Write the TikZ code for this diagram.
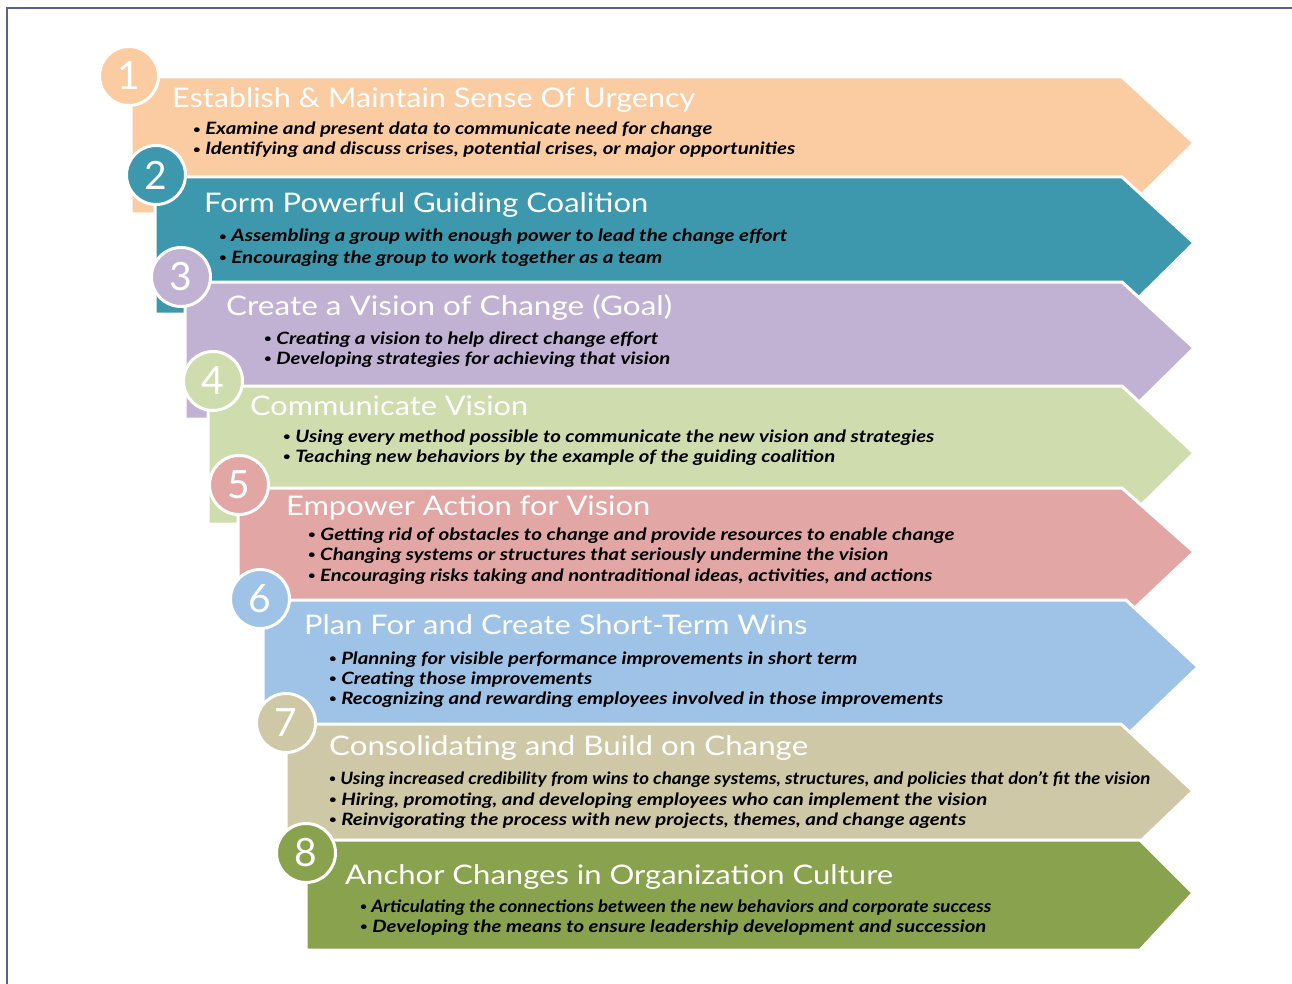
\documentclass[tikz,border=0pt]{standalone}
\usepackage{fontspec}
\setmainfont{Lato}
\usepackage{graphicx}

\definecolor{frameblue}{HTML}{5A6092}
\definecolor{cA}{HTML}{FBCBA2}
\definecolor{cB}{HTML}{3D97AD}
\definecolor{cC}{HTML}{C1B2D4}
\definecolor{cD}{HTML}{CFDCAE}
\definecolor{cE}{HTML}{E2A7A5}
\definecolor{cF}{HTML}{9FC2E7}
\definecolor{cG}{HTML}{CFC8A7}
\definecolor{cH}{HTML}{89A24E}

% chevron band: colour, left, top, bottom, tip y, corner x, tip x
\newcommand{\chevron}[7]{%
  \fill[#1, draw=white, line width=3pt, line join=miter]
    (#2,#3) -- (#6,#3) -- (#7,#5) -- (#6,#4) -- (#2,#4) -- cycle;}
% text set to a given width
\newcommand{\fitw}[2]{\resizebox{#1pt}{\height}{#2}}
% small bullet mark
\newcommand{\pt}{{\fontsize{11}{11}\selectfont\raisebox{1.2pt}{•}}\ }

\begin{document}
\begin{tikzpicture}[x=1pt, y=-1pt,
  stepnum/.style={circle, draw=white, line width=3pt, minimum size=59pt,
    inner sep=0pt, text=white, font=\fontsize{39}{39}\selectfont},
  steptitle/.style={anchor=base west, inner sep=0pt, text=white,
    font=\fontsize{27}{27}\selectfont, yshift=-1pt},
  steppoint/.style={anchor=base west, inner sep=0pt, text=black,
    font=\fontsize{17}{17}\selectfont\bfseries\itshape, yshift=-2pt}]

\useasboundingbox (0,0) rectangle (1292,984);
\draw[frameblue, line width=1.5pt] (7,984) -- (7,8) -- (1292,8);

% 1
\chevron{cA}{131}{77}{214}{143}{1122}{1194}
\node[stepnum, fill=cA] (n1) at (129,76) {1};
\node[steptitle] (t1) at (172,107) {\fitw{523}{Establish \& Maintain Sense Of Urgency}};
\node[steppoint] (p1a) at (193,133) {\fitw{519}{\pt Examine and present data to communicate need for change}};
\node[steppoint] (p1b) at (193,153) {\fitw{602}{\pt Identifying and discuss crises, potential crises, or major opportunities}};

% 2
\chevron{cB}{155}{177}{314}{243}{1122}{1194}
\node[stepnum, fill=cB] (n2) at (156,175) {2};
\node[steptitle] (t2) at (204,212) {\fitw{444}{Form Powerful Guiding Coalition}};
\node[steppoint] (p2a) at (219,240) {\fitw{568}{\pt Assembling a group with enough power to lead the change effort}};
\node[steppoint] (p2b) at (219,261) {\fitw{443}{\pt Encouraging the group to work together as a team}};

% 3
\chevron{cC}{185}{282}{419}{348}{1122}{1194}
\node[stepnum, fill=cC] (n3) at (181,277) {3};
\node[steptitle] (t3) at (226,314) {\fitw{446}{Create a Vision of Change (Goal)}};
\node[steppoint] (p3a) at (264,342) {\fitw{394}{\pt Creating a vision to help direct change effort}};
\node[steppoint] (p3b) at (264,362) {\fitw{406}{\pt Developing strategies for achieving that vision}};

% 4
\chevron{cD}{208}{386}{524}{453}{1122}{1194}
\node[stepnum, fill=cD] (n4) at (213,381) {4};
\node[steptitle] (t4) at (250,414) {\fitw{278}{Communicate Vision}};
\node[steppoint] (p4a) at (283,440) {\fitw{651}{\pt Using every method possible to communicate the new vision and strategies}};
\node[steppoint] (p4b) at (283,460) {\fitw{552}{\pt Teaching new behaviors by the example of the guiding coalition}};

% 5
\chevron{cE}{238}{488}{620}{552}{1122}{1194}
\node[stepnum, fill=cE] (n5) at (239,485) {5};
\node[steptitle] (t5) at (286,514) {\fitw{364}{Empower Action for Vision}};
\node[steppoint] (p5a) at (308,538) {\fitw{646}{\pt Getting rid of obstacles to change and provide resources to enable change}};
\node[steppoint] (p5b) at (308,558) {\fitw{580}{\pt Changing systems or structures that seriously undermine the vision}};
\node[steppoint] (p5c) at (308,579) {\fitw{624}{\pt Encouraging risks taking and nontraditional ideas, activities, and actions}};

% 6
\chevron{cF}{263}{600}{736}{667}{1126}{1198}
\node[stepnum, fill=cF] (n6) at (260,599) {6};
\node[steptitle] (t6) at (304,633) {\fitw{503}{Plan For and Create Short-Term Wins}};
\node[steppoint] (p6a) at (329,662) {\fitw{528}{\pt Planning for visible performance improvements in short term}};
\node[steppoint] (p6b) at (329,682) {\fitw{263}{\pt Creating those improvements}};
\node[steppoint] (p6c) at (329,702) {\fitw{614}{\pt Recognizing and rewarding employees involved in those improvements}};

% 7
\chevron{cG}{286}{724}{860}{791}{1121}{1193}
\node[stepnum, fill=cG] (n7) at (286,723) {7};
\node[steptitle] (t7) at (329,754) {\fitw{479}{Consolidating and Build on Change}};
\node[steppoint] (p7a) at (329,782) {\fitw{821}{\pt Using increased credibility from wins to change systems, structures, and policies that don’t fit the vision}};
\node[steppoint] (p7b) at (329,803) {\fitw{658}{\pt Hiring, promoting, and developing employees who can implement the vision}};
\node[steppoint] (p7c) at (329,823) {\fitw{637}{\pt Reinvigorating the process with new projects, themes, and change agents}};

% 8
\chevron{cH}{306}{840}{950}{893}{1140}{1193}
\node[stepnum, fill=cH] (n8) at (306,853) {8};
\node[steptitle] (t8) at (345,883) {\fitw{548}{Anchor Changes in Organization Culture}};
\node[steppoint] (p8a) at (360,910) {\fitw{631}{\pt Articulating the connections between the new behaviors and corporate success}};
\node[steppoint] (p8b) at (360,930) {\fitw{626}{\pt Developing the means to ensure leadership development and succession}};

\end{tikzpicture}
\end{document}
